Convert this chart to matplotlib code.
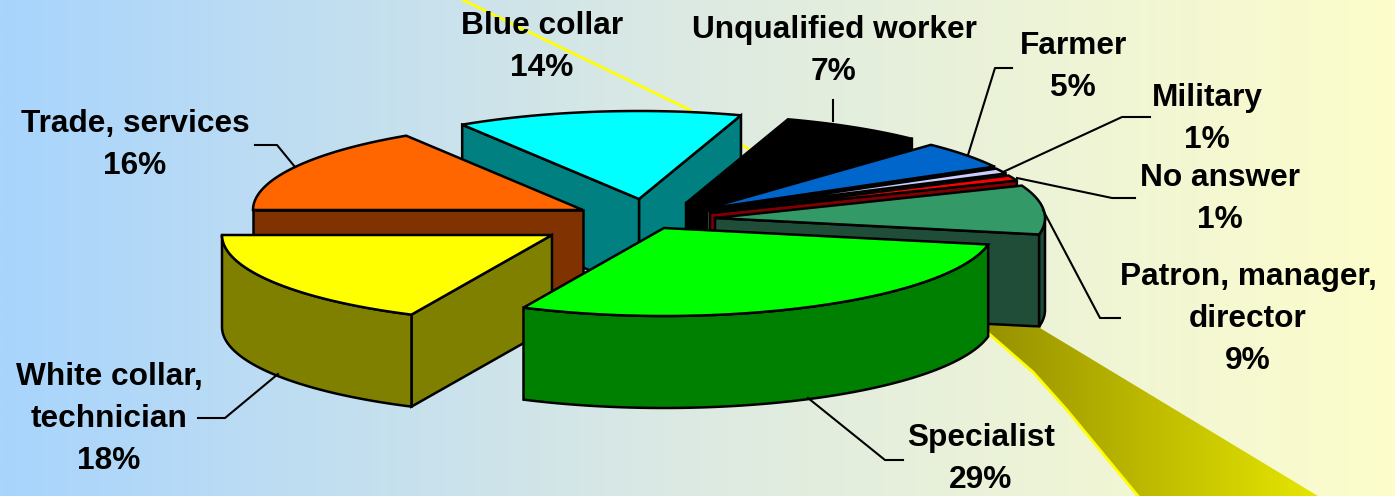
import numpy as np
import matplotlib
matplotlib.use("Agg")
import matplotlib.pyplot as plt
from matplotlib.colors import LinearSegmentedColormap
from matplotlib.patches import Polygon

# ---- data (clockwise from the 9 o'clock position) ----
categories = ["White collar,\ntechnician", "Specialist", "Patron, manager,\ndirector",
              "No answer", "Military", "Farmer", "Unqualified worker",
              "Blue collar", "Trade, services"]
values = [18, 29, 9, 1, 1, 5, 7, 14, 16]

# ---- styling ----
top_colors = ["#FFFF00", "#00FF00", "#339966", "#FF0000", "#CCCCFF",
              "#0066CC", "#000000", "#00FFFF", "#FF6600"]
side_colors = ["#808000", "#008000", "#1F4D38", "#800000", "#666680",
               "#003366", "#000000", "#008080", "#803300"]
apex_x = [552, 664, 715, 710, 707, 705, 686, 639, 583]
apex_y = [235, 228, 218, 213, 211, 209, 203, 199, 210]
draw_order = [7, 6, 5, 4, 3, 2, 8, 0, 1]
label_xy = [(109, 419), (981, 459), (1248, 319), (1220, 199), (1207, 119),
            (1073, 67), (834, 51), (542, 47), (135, 145)]
leaders = [
    [(198, 418), (225, 418), (278, 374)],
    [(903, 460), (885, 460), (808, 398)],
    [(1120, 318), (1100, 318), (1043, 210)],
    [(1135, 198), (1112, 198), (1017, 178)],
    [(1150, 117), (1122, 117), (1003, 172)],
    [(1012, 68), (995, 68), (968, 155)],
    [(833, 100), (833, 121)],
    [],
    [(255, 145), (277, 145), (295, 167)],
]
RX, RY, DEPTH = 330, 88, 92
LW = 1.8

fig = plt.figure(figsize=(13.95, 4.96), dpi=100)
ax = fig.add_axes([0, 0, 1, 1])
ax.set_xlim(0, 1395)
ax.set_ylim(496, 0)
ax.axis("off")

# background gradient
bg = LinearSegmentedColormap.from_list("bg", ["#A8D4FD", "#DDEAE2", "#FDFDCB"])
ax.imshow(np.linspace(0, 1, 512)[None, :], cmap=bg, extent=(0, 1395, 496, 0),
          aspect="auto", zorder=0)

# light beam behind the pie
ax.plot([463, 690, 750], [0, 110, 150], color="#FFFF00", lw=2, zorder=1)
beam_x = [987, 1033, 1067, 1100, 1138]
beam_y = [332, 372, 410, 450, 496]
beam = Polygon([(985, 320), (1040, 328), (1318, 496)] + list(zip(beam_x[::-1], beam_y[::-1])),
               closed=True, fc="none", ec="none", transform=ax.transData)
ax.add_patch(beam)
olive = LinearSegmentedColormap.from_list("olive", ["#969000", "#E6E600"])
im = ax.imshow(np.linspace(0, 1, 256)[None, :], cmap=olive, extent=(985, 1318, 496, 320),
               aspect="auto", zorder=1)
im.set_clip_path(beam)
ax.plot(beam_x, beam_y, color="#FFFF00", lw=2, zorder=1)
ax.set_xlim(0, 1395)
ax.set_ylim(496, 0)

# slice angles from the values
total = sum(values)
edges = 180 - np.concatenate([[0], np.cumsum(values)]) * 360.0 / total


def pt(ax0, ay0, t):
    r = np.radians(t)
    return ax0 + RX * np.cos(r), ay0 + RY * np.sin(r)


z = 2
for i in draw_order:
    t1, t2 = edges[i], edges[i + 1]
    A = np.array([apex_x[i], apex_y[i]], float)
    M = np.array(pt(A[0], A[1], (t1 + t2) / 2))
    # cut faces that look towards the viewer
    for t in (t1, t2):
        P = np.array(pt(A[0], A[1], t))
        dx, dy = P - A
        y_line = A[1] + dy / dx * (M[0] - A[0]) if abs(dx) > 1e-6 else A[1]
        if M[1] < y_line:
            ax.add_patch(Polygon([A, P, P + (0, DEPTH), A + (0, DEPTH)], closed=True,
                                 fc=side_colors[i], ec="black", lw=LW, joinstyle="miter", zorder=z))
            z += 1
    # outer rim, front half only
    lo, hi = max(t2, 0), min(t1, 180)
    if hi > lo:
        ts = np.linspace(lo, hi, 60)
        xs, ys = pt(A[0], A[1], ts)
        rim = np.column_stack([np.r_[xs, xs[::-1]], np.r_[ys, ys[::-1] + DEPTH]])
        ax.add_patch(Polygon(rim, closed=True, fc=side_colors[i], ec="black", lw=LW,
                             joinstyle="miter", zorder=z))
        z += 1
    # top face
    ts = np.linspace(t1, t2, 80)
    xs, ys = pt(A[0], A[1], ts)
    ax.add_patch(Polygon(np.vstack([A, np.column_stack([xs, ys])]), closed=True,
                         fc=top_colors[i], ec="black", lw=LW, joinstyle="miter", zorder=z))
    z += 1

# leader lines and labels
for i, name in enumerate(categories):
    if leaders[i]:
        lx, ly = zip(*leaders[i])
        ax.plot(lx, ly, color="black", lw=1.5, zorder=z)
    ax.text(label_xy[i][0], label_xy[i][1], f"{name}\n{values[i]}%",
            ha="center", va="center", ma="center", family="Liberation Sans",
            weight="bold", fontsize=22.8, linespacing=1.54, color="black", zorder=z + 1)

fig.savefig("out.png", dpi=100)
